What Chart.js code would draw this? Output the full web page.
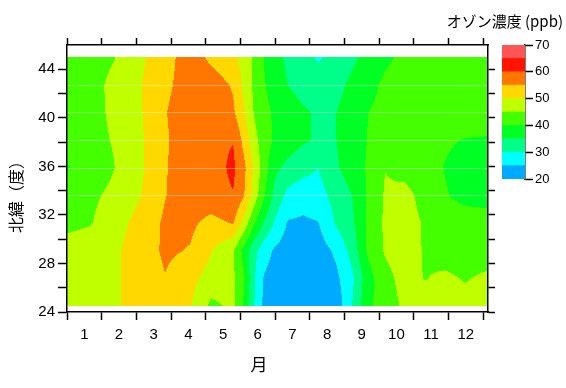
<!DOCTYPE html>
<html>
<head>
<meta charset="utf-8">
<script src="https://cdn.jsdelivr.net/npm/chart.js@4.4.1/dist/chart.umd.min.js"></script>
<style>
  html, body { margin: 0; padding: 0; background: #fff; }
  #wrap { position: relative; width: 566px; height: 388px; }
  #wrap canvas { position: absolute; left: 0; top: 0; }
</style>
</head>
<body>
<div id="wrap">
  <canvas id="main" width="566" height="388"></canvas>
  <canvas id="bar" width="566" height="388"></canvas>
</div>
<script>
// ----------------------------
// Data (ozone ppb)
// ----------------------------
const monthLabels = ['1', '2', '3', '4', '5', '6', '7', '8', '9', '10', '11', '12'];
const latTicks = [24, 26, 28, 30, 32, 34, 36, 38, 40, 42, 44];

// grid columns, in month units along the x axis
const monthPos = [0, 0.66, 1.38, 2.11, 2.83, 3.55, 4.15, 4.79, 5.10, 5.39, 5.68, 6.00,
                  6.37, 6.81, 7.24, 7.76, 8.22, 8.68, 9.17, 9.75, 10.32, 10.90, 11.48, 12.14];
// grid rows, north to south
const latitudes = [45, 42.72, 40.44, 38.17, 35.89, 33.61, 31.33, 29.06, 26.78, 24.5];

const lat45_0 = [42.5, 43.5, 44.9, 49.0, 53.2, 57.5, 54.0, 51.0, 48.3, 44.0, 39.8, 36.8, 33.9, 31.4, 29.5, 31.5, 34.0, 36.5, 39.2, 41.0, 42.0, 42.5, 42.5, 42.5];
const lat42_7 = [42.5, 43.8, 45.9, 49.7, 54.1, 57.0, 57.5, 54.5, 48.9, 44.1, 40.4, 37.8, 35.0, 33.0, 31.8, 33.5, 36.1, 38.6, 40.8, 41.8, 42.3, 42.5, 42.5, 42.5];
const lat40_4 = [42.5, 43.7, 45.8, 49.5, 54.8, 57.5, 58.3, 55.8, 50.6, 44.8, 41.4, 39.2, 37.5, 35.7, 34.4, 34.95, 37.4, 39.95, 41.3, 42.2, 42.5, 42.5, 42.5, 42.5];
const lat38_2 = [42.5, 43.5, 45.4, 49.2, 54.4, 58.0, 59.0, 59.8, 53.5, 46.8, 42.3, 39.3, 37.6, 35.7, 34.4, 34.95, 37.4, 40.2, 41.5, 42.2, 42.0, 40.6, 39.8, 39.6];
const lat35_9 = [39.6, 42.0, 45.0, 49.1, 54.6, 58.3, 57.8, 61.0, 56.2, 49.5, 42.5, 36.1, 33.6, 31.7, 30.0, 34.4, 37.4, 40.6, 44.9, 43.5, 42.0, 39.8, 38.3, 37.6];
const lat33_6 = [42.5, 44.0, 46.2, 49.8, 54.8, 58.5, 58.0, 59.8, 55.3, 48.2, 40.7, 33.4, 28.6, 27.0, 28.1, 31.8, 35.0, 40.6, 45.5, 46.3, 43.5, 40.4, 38.5, 37.8];
const lat31_3 = [43.5, 44.6, 48.0, 51.7, 55.8, 56.0, 53.5, 55.3, 48.3, 40.7, 34.6, 29.3, 24.5, 24.2, 24.8, 30.6, 34.0, 41.0, 45.8, 47.0, 44.5, 42.5, 42.5, 42.5];
const lat29_1 = [47.5, 48.2, 49.3, 52.4, 55.8, 54.7, 50.4, 45.5, 38.3, 31.6, 27.3, 24.2, 22.8, 22.0, 22.6, 25.9, 31.9, 40.9, 45.5, 47.5, 44.5, 42.5, 42.5, 42.5];
const lat26_8 = [47.5, 48.2, 49.4, 51.8, 54.8, 51.7, 47.8, 45.8, 40.7, 30.7, 24.6, 22.5, 21.5, 21.2, 21.5, 23.9, 28.9, 38.0, 43.5, 46.8, 44.8, 46.0, 44.6, 46.0];
const lat24_5 = [47.5, 48.2, 49.4, 51.8, 52.4, 50.3, 44.0, 46.0, 39.3, 30.3, 23.8, 22.0, 21.3, 21.0, 21.3, 21.8, 30.0, 39.0, 42.5, 46.0, 47.0, 46.5, 47.0, 47.5];

const ozoneRows = [lat45_0, lat42_7, lat40_4, lat38_2, lat35_9, lat33_6, lat31_3, lat29_1, lat26_8, lat24_5];

// colour bands 20-25, 25-30 ... 65-70
const bandEdges = [20, 25, 30, 35, 40, 45, 50, 55, 60, 65, 70];
const bandColors = ['#00aaff', '#00ffff', '#00ff88', '#00ff22', '#44ff00',
                    '#bfff00', '#ffd800', '#ff7700', '#ff1400', '#ff5555'];

// ----------------------------
// Helpers
// ----------------------------
const tickFont = { family: '"Liberation Sans", Arial, sans-serif', size: 15 };
const jpFont = '"Noto Sans CJK JP", "Noto Sans", sans-serif';

function hexToRgb(h) {
    return [parseInt(h.slice(1, 3), 16), parseInt(h.slice(3, 5), 16), parseInt(h.slice(5, 7), 16)];
}
const bandRgb = bandColors.map(hexToRgb);

function ozoneAt(u, lat) {
    let i = 0;
    while (i < monthPos.length - 2 && u > monthPos[i + 1]) i++;
    let j = 0;
    while (j < latitudes.length - 2 && lat < latitudes[j + 1]) j++;
    const s = (u - monthPos[i]) / (monthPos[i + 1] - monthPos[i]);
    const t = (latitudes[j] - lat) / (latitudes[j] - latitudes[j + 1]);
    const a = ozoneRows[j][i], b = ozoneRows[j][i + 1];
    const c = ozoneRows[j + 1][i], d = ozoneRows[j + 1][i + 1];
    return a * (1 - s) * (1 - t) + b * s * (1 - t) + c * (1 - s) * t + d * s * t;
}

// filled contour map, painted pixel by pixel through the chart scales
const contourPlugin = {
    id: 'contour',
    beforeDraw(chart) {
        const { ctx, chartArea: area } = chart;
        const xs = chart.scales.x, ys = chart.scales.y;
        const w = Math.round(area.right - area.left), h = Math.round(area.bottom - area.top);
        const off = document.createElement('canvas');
        off.width = w; off.height = h;
        const octx = off.getContext('2d');
        const img = octx.createImageData(w, h);
        const latMax = latitudes[0], latMin = latitudes[latitudes.length - 1];
        for (let py = 0; py < h; py++) {
            const lat = ys.getValueForPixel(area.top + py + 0.5);
            if (lat > latMax || lat < latMin) continue;
            for (let px = 0; px < w; px++) {
                const u = xs.getValueForPixel(area.left + px + 0.5);
                if (u < monthPos[0] || u > monthPos[monthPos.length - 1]) continue;
                const v = ozoneAt(u, lat);
                let k = Math.floor((v - bandEdges[0]) / 5);
                k = Math.max(0, Math.min(bandColors.length - 1, k));
                const rgb = bandRgb[k];
                const o = (py * w + px) * 4;
                img.data[o] = rgb[0]; img.data[o + 1] = rgb[1]; img.data[o + 2] = rgb[2]; img.data[o + 3] = 255;
            }
        }
        octx.putImageData(img, 0, 0);
        ctx.save();
        ctx.drawImage(off, area.left, area.top);
        // faint row lines from the gridding
        ctx.strokeStyle = 'rgba(255,255,255,0.35)';
        ctx.lineWidth = 1;
        for (let j = 1; j <= 5; j++) {
            const yy = Math.round(ys.getPixelForValue(latitudes[j])) + 0.5;
            ctx.beginPath();
            ctx.moveTo(area.left, yy);
            ctx.lineTo(area.right, yy);
            ctx.stroke();
        }
        ctx.restore();
    }
};

const titlesPlugin = {
    id: 'titles',
    afterDraw(chart) {
        const ctx = chart.ctx;
        ctx.save();
        ctx.fillStyle = '#000';
        ctx.textAlign = 'center';
        ctx.textBaseline = 'middle';
        ctx.font = '17px ' + jpFont;
        ctx.fillText('月', 259, 365);
        ctx.save();
        ctx.translate(16, 193);
        ctx.rotate(-Math.PI / 2);
        ctx.font = '16px ' + jpFont;
        ctx.fillText('北緯（度）', 0, 0);
        ctx.restore();
        ctx.textAlign = 'right';
        ctx.textBaseline = 'alphabetic';
        ctx.font = '15px ' + jpFont;
        ctx.fillText('オゾン濃度 (ppb)', 563, 27);
        ctx.restore();
    }
};

// ----------------------------
// Main contour chart
// ----------------------------
const axisBorder = { display: true, color: '#000', width: 1.5 };

new Chart(document.getElementById('main'), {
    type: 'scatter',
    data: { datasets: [] },
    options: {
        responsive: false,
        animation: false,
        devicePixelRatio: 1,
        layout: { padding: 0 },
        plugins: { legend: { display: false }, tooltip: { enabled: false } },
        scales: {
            x: {
                type: 'linear', position: 'bottom', min: 0, max: 12.14,
                afterBuildTicks: s => {
                    const t = [];
                    monthLabels.forEach((m, i) => { t.push({ value: i }); t.push({ value: i + 0.5 }); });
                    t.push({ value: monthLabels.length });
                    s.ticks = t;
                },
                afterFit: s => { s.height = 76; },
                ticks: {
                    autoSkip: false, maxRotation: 0, padding: 6, color: '#000', font: tickFont,
                    callback: v => (v % 1 === 0.5 ? monthLabels[Math.floor(v)] : '')
                },
                grid: {
                    drawOnChartArea: false, tickLength: 8, tickWidth: 1.5,
                    tickColor: c => (c.tick && c.tick.value % 1 === 0 ? '#000' : 'rgba(0,0,0,0)')
                },
                border: axisBorder
            },
            xTop: {
                type: 'linear', position: 'top', min: 0, max: 12.14,
                afterBuildTicks: s => { s.ticks = monthLabels.map((m, i) => ({ value: i })).concat([{ value: 12 }]); },
                afterFit: s => { s.height = 45; },
                ticks: { display: false },
                grid: { drawOnChartArea: false, tickLength: 7, tickWidth: 1.5, tickColor: '#000' },
                border: axisBorder
            },
            y: {
                type: 'linear', position: 'left', min: 24, max: 46,
                afterBuildTicks: s => { s.ticks = latTicks.map(v => ({ value: v })); },
                afterFit: s => { s.width = 67; },
                ticks: { padding: 3, color: '#000', font: tickFont, callback: v => (v % 4 === 0 ? v : '') },
                grid: { drawOnChartArea: false, tickLength: 9, tickWidth: 1.5, tickColor: '#000' },
                border: axisBorder
            },
            yRight: {
                type: 'linear', position: 'right', min: 24, max: 46,
                afterBuildTicks: s => { s.ticks = latTicks.map(v => ({ value: v })); },
                afterFit: s => { s.width = 78; },
                ticks: { display: false },
                grid: { drawOnChartArea: false, tickLength: 7, tickWidth: 1.5, tickColor: '#000' },
                border: axisBorder
            }
        }
    },
    plugins: [contourPlugin, titlesPlugin]
});

// ----------------------------
// Colour bar (floating bars on its own chart)
// ----------------------------
new Chart(document.getElementById('bar'), {
    type: 'bar',
    data: {
        labels: [''],
        datasets: bandColors.map((c, i) => ({
            data: [[bandEdges[i], bandEdges[i + 1]]],
            backgroundColor: c,
            borderWidth: 0,
            barPercentage: 1,
            categoryPercentage: 1
        }))
    },
    options: {
        responsive: false,
        animation: false,
        devicePixelRatio: 1,
        layout: { padding: { left: 502, top: 45, bottom: 209, right: 0 } },
        plugins: { legend: { display: false }, tooltip: { enabled: false } },
        scales: {
            x: { display: false, stacked: true },
            y: {
                position: 'right', min: 20, max: 70,
                afterFit: s => { s.width = 41; },
                ticks: { stepSize: 10, padding: 2, color: '#000', font: { family: tickFont.family, size: 13 } },
                grid: { drawOnChartArea: false, tickLength: 8, tickWidth: 1.5, tickColor: '#000' },
                border: axisBorder
            }
        }
    }
});
</script>
</body>
</html>
